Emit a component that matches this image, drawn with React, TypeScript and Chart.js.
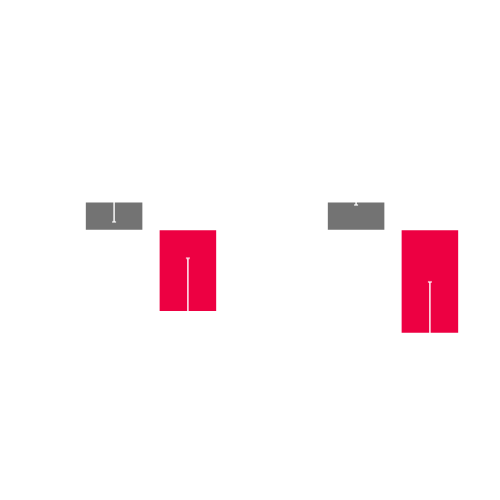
import React, { useEffect, useRef } from "react";
import { Chart, registerables } from "chart.js";

Chart.register(...registerables);

// two groups, each a gray floating bar and a red floating bar
const labels = ["A", "B"];
const grayRange = [
  [54.2, 59.8],
  [54.2, 59.8],
];
const redRange = [
  [37.4, 54.1],
  [32.9, 54.1],
];
// error whiskers (white, so only visible inside the bars)
const grayWhisker = [
  [55.8, 64.0],
  [59.3, 63.0],
];
const redWhisker = [
  [30.0, 48.3],
  [25.0, 43.4],
];

const whiskerPlugin = {
  id: "whiskers",
  afterDatasetsDraw(chart) {
    const ctx = chart.ctx;
    const y = chart.scales.y;
    const sets = [grayWhisker, redWhisker];
    ctx.save();
    sets.forEach((w, di) => {
      const meta = chart.getDatasetMeta(di);
      meta.data.forEach((bar, i) => {
        const x = bar.x;
        const lo = y.getPixelForValue(w[i][0]);
        const hi = y.getPixelForValue(w[i][1]);
        ctx.strokeStyle = "rgba(255,255,255,0.95)";
        ctx.lineWidth = 1.5;
        ctx.beginPath();
        ctx.moveTo(x, lo);
        ctx.lineTo(x, hi);
        ctx.stroke();
        ctx.strokeStyle = "rgba(255,255,255,0.6)";
        ctx.lineWidth = 2;
        [lo, hi].forEach((py) => {
          ctx.beginPath();
          ctx.moveTo(x - 2, py);
          ctx.lineTo(x + 2, py);
          ctx.stroke();
        });
      });
    });
    ctx.restore();
  },
};

const App = () => {
  const canvasRef = useRef(null);
  const chartRef = useRef(null);

  useEffect(() => {
    const ctx = canvasRef.current.getContext("2d");
    if (chartRef.current) chartRef.current.destroy();

    chartRef.current = new Chart(ctx, {
      type: "bar",
      data: {
        labels,
        datasets: [
          {
            label: "gray",
            data: grayRange,
            backgroundColor: "#737373",
            borderWidth: 0,
            clip: false,
          },
          {
            label: "red",
            data: redRange,
            backgroundColor: "#ed0042",
            borderWidth: 0,
            clip: false,
          },
        ],
      },
      options: {
        animation: false,
        responsive: true,
        maintainAspectRatio: false,
        categoryPercentage: 0.61,
        barPercentage: 0.766,
        layout: { padding: { left: 143, right: 99, top: 0, bottom: 0 } },
        plugins: {
          legend: { display: false },
          tooltip: { enabled: false },
        },
        scales: {
          x: { display: false, offset: false },
          y: { display: false, min: 0, max: 100 },
        },
      },
      plugins: [whiskerPlugin],
    });

    return () => {
      if (chartRef.current) {
        chartRef.current.destroy();
        chartRef.current = null;
      }
    };
  }, []);

  return (
    <div style={{ width: "484px", height: "484px" }}>
      <canvas ref={canvasRef}></canvas>
    </div>
  );
};

export default App;
